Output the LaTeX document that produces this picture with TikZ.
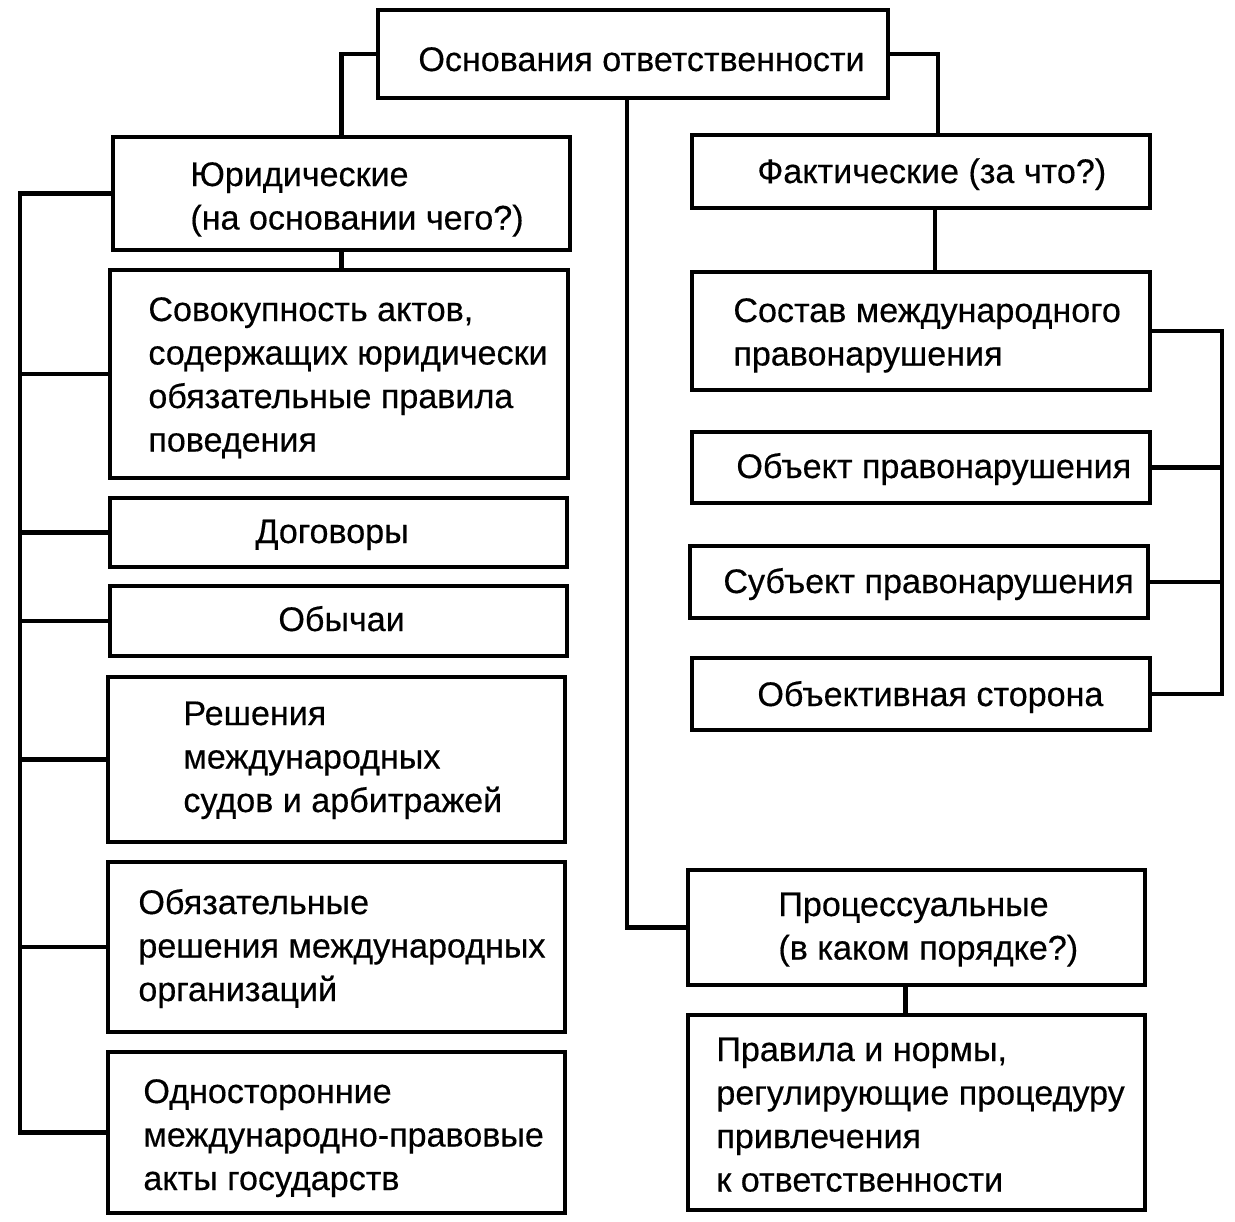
\documentclass[tikz,border=0pt]{standalone}
\usepackage{fontspec}
\setmainfont[FakeBold=0.4]{Liberation Sans}
\usetikzlibrary{calc}
\newcommand\mlines[1]{\vtop{\baselineskip=21.75pt\halign{##\hfil\cr#1\crcr}}}
\begin{document}
\begin{tikzpicture}[x=0.5pt,y=-0.5pt,
  box/.style={draw=black,line width=2.1pt,inner sep=0pt,fill=none},
  lbl/.style={anchor=base west,inner sep=0pt,text=black,font=\fontsize{17.05pt}{21.75pt}\selectfont},
  conn/.style={draw=black,line width=2.1pt}]
\useasboundingbox (0,0) rectangle (1235,1221);
% boxes
\node[box,minimum width=255pt,minimum height=44pt] (root) at (633,54) {};
\node[box,minimum width=228.5pt,minimum height=56.5pt] (jur) at (341.5,193.5) {};
\node[box,minimum width=229pt,minimum height=104pt] (sov) at (339,374) {};
\node[box,minimum width=228.5pt,minimum height=34.5pt] (dog) at (338.5,532.5) {};
\node[box,minimum width=228.5pt,minimum height=35pt] (obych) at (338.5,621) {};
\node[box,minimum width=228.5pt,minimum height=82.5pt] (resh) at (336.5,759.5) {};
\node[box,minimum width=228.5pt,minimum height=85pt] (obyaz) at (336.5,947) {};
\node[box,minimum width=228.5pt,minimum height=80.5pt] (odnos) at (336.5,1132.5) {};
\node[box,minimum width=229pt,minimum height=36.5pt] (fakt) at (921,171.5) {};
\node[box,minimum width=229pt,minimum height=59pt] (sost) at (921,331) {};
\node[box,minimum width=229pt,minimum height=35.5pt] (obj) at (921,467.5) {};
\node[box,minimum width=229pt,minimum height=36pt] (subj) at (919,582) {};
\node[box,minimum width=229pt,minimum height=36pt] (objst) at (921,694) {};
\node[box,minimum width=228.5pt,minimum height=57.5pt] (proc) at (916.5,927.5) {};
\node[box,minimum width=228.5pt,minimum height=97.5pt] (prav) at (916.5,1112.5) {};
% texts
\node[lbl] (rootT) at (418,71) {Основания ответственности};
\node[lbl] (jurT) at (190,186) {\mlines{Юридические\cr(на основании чего?)}};
\node[lbl] (sovT) at (148,321) {\mlines{Совокупность актов,\cr содержащих юридически\cr обязательные правила\cr поведения}};
\node[lbl] (dogT) at (255,543) {Договоры};
\node[lbl] (obychT) at (278,631) {Обычаи};
\node[lbl] (reshT) at (183,725) {\mlines{Решения\cr международных\cr судов и арбитражей}};
\node[lbl] (obyazT) at (138,914) {\mlines{Обязательные\cr решения международных\cr организаций}};
\node[lbl] (odnosT) at (143,1103) {\mlines{Односторонние\cr международно-правовые\cr акты государств}};
\node[lbl] (faktT) at (757,183) {Фактические (за что?)};
\node[lbl] (sostT) at (733,322) {\mlines{Состав международного\cr правонарушения}};
\node[lbl] (objT) at (736,478) {Объект правонарушения};
\node[lbl] (subjT) at (723,593) {Субъект правонарушения};
\node[lbl] (objstT) at (757,706) {Объективная сторона};
\node[lbl] (procT) at (778,916) {\mlines{Процессуальные\cr(в каком порядке?)}};
\node[lbl] (pravT) at (716,1061) {\mlines{Правила и нормы,\cr регулирующие процедуру\cr привлечения\cr к ответственности}};
% connectors
\draw[conn] (root.west) -| (jur.north);
\draw[conn] (root.east) -| ($(fakt.north)+(17,0)$);
\draw[conn] ($(root.south)+(-6,0)$) |- (proc.west);
\draw[conn] (jur.south) -- (jur.south |- sov.north);
\draw[conn] ($(fakt.south)+(14,0)$) -- ($(sost.north)+(14,0)$);
\draw[conn] ($(proc.south)+(-11,0)$) -- ($(prav.north)+(-11,0)$);
% left bus
\coordinate (lb) at (20,0);
\draw[conn] (jur.west) -- (jur.west -| lb) -- (odnos.west -| lb) -- (odnos.west);
\foreach \b in {sov,dog,obych,resh,obyaz}{\draw[conn] (\b.west) -- (\b.west -| lb);}
% right bus
\coordinate (rb) at (1222,0);
\draw[conn] (sost.east) -- (sost.east -| rb) -- (objst.east -| rb) -- (objst.east);
\foreach \b in {obj,subj}{\draw[conn] (\b.east) -- (\b.east -| rb);}
\end{tikzpicture}
\end{document}
